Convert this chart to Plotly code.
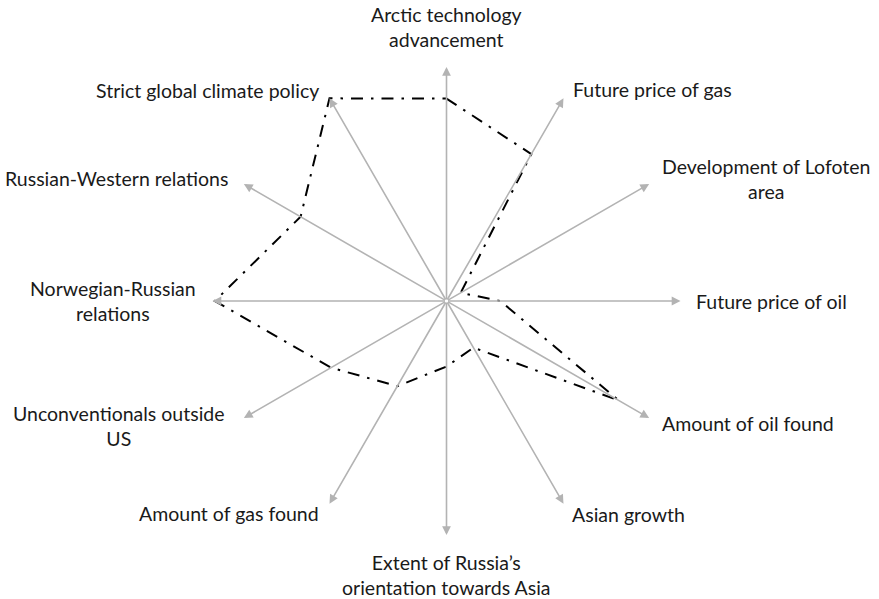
import numpy as np
import plotly.graph_objects as go

# ---- data ----
categories = [
    "Arctic technology<br>advancement",
    "Future price of gas",
    "Development of Lofoten<br>area",
    "Future price of oil",
    "Amount of oil found",
    "Asian growth",
    "Extent of Russia\u2019s<br>orientation towards Asia",
    "Amount of gas found",
    "Unconventionals outside<br>US",
    "Norwegian-Russian<br>relations",
    "Russian-Western relations",
    "Strict global climate policy",
]
axis_angles_deg = [90, 60, 30, 0, -30, -60, -90, -120, -150, 180, 150, 120]
scenario_values = [0.865, 0.725, 0.07, 0.23, 0.85, 0.23, 0.28, 0.42, 0.57, 0.99, 0.72, 1.0]
axis_length = 1.0

# ---- label placement (style only) ----
label_style = [
    dict(xanchor="center", yanchor="bottom", xshift=0, yshift=14),
    dict(xanchor="left", yanchor="middle", xshift=7, yshift=9),
    dict(xanchor="left", yanchor="middle", xshift=11, yshift=5),
    dict(xanchor="left", yanchor="middle", xshift=13, yshift=0),
    dict(xanchor="left", yanchor="middle", xshift=11, yshift=-5),
    dict(xanchor="left", yanchor="middle", xshift=6, yshift=-11),
    dict(xanchor="center", yanchor="top", xshift=0, yshift=-14),
    dict(xanchor="right", yanchor="middle", xshift=-9, yshift=-10),
    dict(xanchor="right", yanchor="middle", xshift=-17, yshift=-8),
    dict(xanchor="right", yanchor="middle", xshift=-15, yshift=0),
    dict(xanchor="right", yanchor="middle", xshift=-14, yshift=6),
    dict(xanchor="right", yanchor="middle", xshift=-9, yshift=8),
]

theta = np.radians(axis_angles_deg)
tip_x = axis_length * np.cos(theta)
tip_y = axis_length * np.sin(theta)

vals = np.array(scenario_values)
px = np.append(vals * np.cos(theta), vals[0] * np.cos(theta[0]))
py = np.append(vals * np.sin(theta), vals[0] * np.sin(theta[0]))

fig = go.Figure()
fig.add_trace(go.Scatter(
    x=px, y=py, mode="lines",
    line=dict(color="black", width=2, dash="12px,8px,2.5px,8px"),
    hoverinfo="skip", showlegend=False,
))

annotations = []
for i, cat in enumerate(categories):
    annotations.append(dict(
        x=tip_x[i], y=tip_y[i], ax=0, ay=0, xref="x", yref="y",
        axref="x", ayref="y", text="", showarrow=True,
        arrowhead=2, arrowsize=1.1, arrowwidth=1.6, arrowcolor="#b3b3b3",
        standoff=0, startstandoff=0,
    ))
for i, cat in enumerate(categories):
    st = label_style[i]
    annotations.append(dict(
        x=tip_x[i], y=tip_y[i], xref="x", yref="y", text=cat,
        showarrow=False, align="center",
        font=dict(family="Lato", size=19.5, color="#1a1a1a"), **st,
    ))

W, H = 879, 599
cx, cy = 446.5, 301.0  # centre in pixels (from top-left)
scale = 234.0
fig.update_layout(
    width=W, height=H,
    margin=dict(l=0, r=0, t=0, b=0),
    paper_bgcolor="white", plot_bgcolor="white",
    xaxis=dict(range=[-cx / scale, (W - cx) / scale], visible=False, fixedrange=True),
    yaxis=dict(range=[-(H - cy) / scale, cy / scale], visible=False, fixedrange=True),
    annotations=annotations,
    showlegend=False,
)
fig.write_html(
    "out.html",
    config={"displayModeBar": False},
    post_script="document.body.style.margin='0px';document.body.style.overflow='hidden';",
)
